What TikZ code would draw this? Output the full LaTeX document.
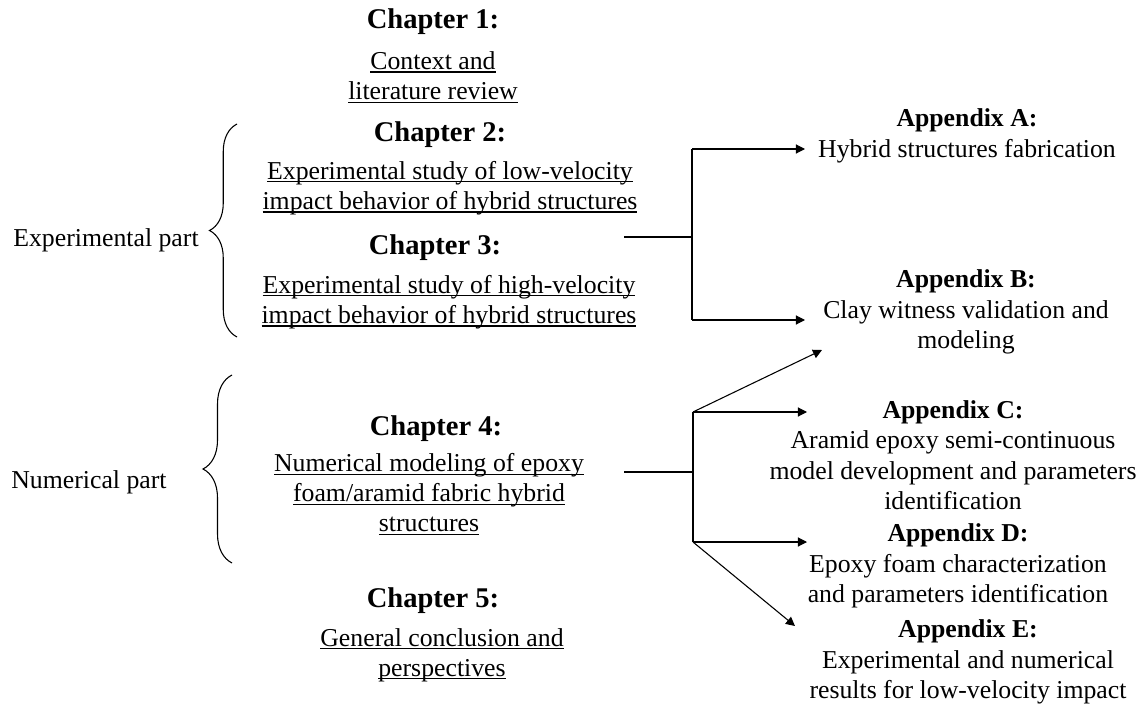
\documentclass[tikz,border=0pt]{standalone}
\usepackage{fontspec}
\setmainfont{Liberation Serif}
\usepackage{xcolor}
\usepackage{tikz}
\usetikzlibrary{arrows.meta,decorations.pathreplacing}

\newsavebox\chapbox
\newcommand{\chapline}[1]{\sbox\chapbox{#1}\rlap{\rule[-1.5pt]{\wd\chapbox}{0.5pt}}\usebox\chapbox}

\begin{document}
\begin{tikzpicture}[x=0.4658pt,y=-0.4658pt,line width=0.5pt,
  chaphead/.style={font=\fontsize{13.3}{16}\selectfont\bfseries},
  chaptext/.style={align=center,font=\fontsize{12}{14}\selectfont},
  apptext/.style={align=center,font=\fontsize{12}{14.2}\selectfont},
  arr/.style={-{Triangle[length=4.2pt,width=4.2pt]}}]

\useasboundingbox (0,0) rectangle (1146,706);

% Chapter 1
\node[chaphead] (ch1) at (433,22) {Chapter 1:};
\node[chaptext] (ch1txt) at (433,77) {\chapline{Context and}\\\chapline{literature review}};

% Chapter 2
\node[chaphead] (ch2) at (440,135) {Chapter 2:};
\node[chaptext] (ch2txt) at (450,188) {\chapline{Experimental study of low-velocity}\\\chapline{impact behavior of hybrid structures}};

% Chapter 3
\node[chaphead] (ch3) at (435,248) {Chapter 3:};
\node[chaptext] (ch3txt) at (449,302) {\chapline{Experimental study of high-velocity}\\\chapline{impact behavior of hybrid structures}};

% Chapter 4
\node[chaphead] (ch4) at (436,429) {Chapter 4:};
\node[chaptext] (ch4txt) at (429,494) {\chapline{Numerical modeling of epoxy}\\\chapline{foam/aramid fabric hybrid}\\\chapline{structures}};

% Chapter 5
\node[chaphead] (ch5) at (433,601) {Chapter 5:};
\node[chaptext] (ch5txt) at (442,655) {\chapline{General conclusion and}\\\chapline{perspectives}};

% Parts with braces
\node[chaptext] (exppart) at (106,240) {Experimental part};
\draw[decorate,decoration={brace,amplitude=12.8pt}] (237,337) -- (237,124);
\node[chaptext] (numpart) at (89,482) {Numerical part};
\draw[decorate,decoration={brace,amplitude=13.5pt}] (232,563) -- (232,375);

% Appendices
\node[apptext] (appA) at (967,136) {\textbf{Appendix A:}\\Hybrid structures fabrication};
\node[apptext] (appB) at (966,312) {\textbf{Appendix B:}\\Clay witness validation and\\modeling};
\node[apptext] (appC) at (953,455) {\textbf{Appendix C:}\\Aramid epoxy semi-continuous\\model development and parameters\\identification};
\node[apptext] (appD) at (958,566) {\textbf{Appendix D:}\\Epoxy foam characterization\\and parameters identification};
\node[apptext] (appE) at (968,662) {\textbf{Appendix E:}\\Experimental and numerical\\results for low-velocity impact};

% Experimental part -> appendices A and B
\coordinate (expstart) at (624,237);
\coordinate (expfork) at (692,237);
\coordinate (forkA) at (692,149);
\coordinate (forkB) at (692,320);
\coordinate (tipA) at (805,149);
\coordinate (tipB) at (805,320);
\draw (expstart) -- (expfork);
\draw (forkA) -- (forkB);
\draw[arr] (forkA) -- (tipA);
\draw[arr] (forkB) -- (tipB);

% Numerical part -> appendices B to E
\coordinate (numstart) at (624,472);
\coordinate (numfork) at (693,472);
\coordinate (forkC) at (693,412);
\coordinate (forkD) at (693,542);
\coordinate (tipBn) at (822,350);
\coordinate (tipC) at (807,412);
\coordinate (tipD) at (807,542);
\coordinate (tipE) at (795,626);
\draw (numstart) -- (numfork);
\draw (forkC) -- (forkD);
\draw[arr] (forkC) -- (tipBn);
\draw[arr] (forkC) -- (tipC);
\draw[arr] (forkD) -- (tipD);
\draw[arr] (forkD) -- (tipE);

\end{tikzpicture}
\end{document}
